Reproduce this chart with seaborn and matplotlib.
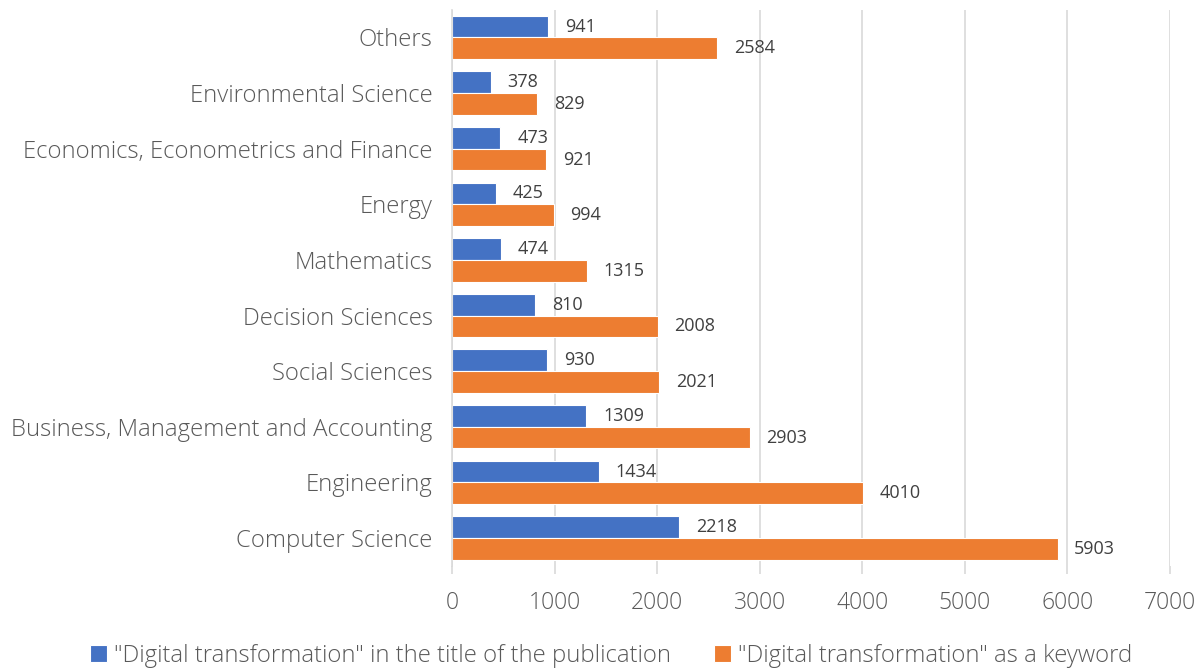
import pandas as pd
import seaborn as sns
import matplotlib.pyplot as plt

categories = ["Others", "Environmental Science", "Economics, Econometrics and Finance",
              "Energy", "Mathematics", "Decision Sciences", "Social Sciences",
              "Business, Management and Accounting", "Engineering", "Computer Science"]
title_counts = [941, 378, 473, 425, 474, 810, 930, 1309, 1434, 2218]
keyword_counts = [2584, 829, 921, 994, 1315, 2008, 2021, 2903, 4010, 5903]
series = ['"Digital transformation" in the title of the publication',
          '"Digital transformation" as a keyword']
x_ticks = [0, 1000, 2000, 3000, 4000, 5000, 6000, 7000]

df = pd.DataFrame({
    "category": categories * 2,
    "count": title_counts + keyword_counts,
    "series": [series[0]] * len(categories) + [series[1]] * len(categories),
})

sns.set_style("white")
plt.rcParams['font.family'] = ['Open Sans', 'DejaVu Sans']
text_color = "#595959"
grid_color = "#D9D9D9"

fig = plt.figure(figsize=(12.03, 6.68), dpi=100)
ax = fig.add_axes([0.3757, 0.153, 0.5969, 0.8325])

sns.barplot(data=df, y="category", x="count", hue="series", order=categories,
            hue_order=series, palette=["#4472C4", "#ED7D31"], saturation=1,
            width=0.78, edgecolor="white", linewidth=0.8, ax=ax)

for cont in ax.containers:
    ax.bar_label(cont, padding=12, fontsize=13, color="#404040")

ax.set_xlim(0, 7000)
ax.set_xticks(x_ticks)
ax.xaxis.grid(True, color=grid_color, linewidth=1.2)
ax.set_axisbelow(True)
ax.tick_params(axis="x", length=6, width=1.2, color=grid_color, pad=12,
               labelsize=16.5, labelcolor=text_color, bottom=True)
ax.tick_params(axis="y", length=0, pad=14, labelsize=17.2, labelcolor=text_color)
for lbl in ax.get_xticklabels() + ax.get_yticklabels():
    lbl.set_fontweight("light")
ax.set_xlabel("")
ax.set_ylabel("")
for s in ["top", "right", "bottom"]:
    ax.spines[s].set_visible(False)
ax.spines["left"].set_color(grid_color)
ax.spines["left"].set_linewidth(1.2)

handles, labels = ax.get_legend_handles_labels()
ax.legend_.remove()
leg = fig.legend(handles, labels, loc="center", bbox_to_anchor=(0.508, 0.018), ncol=2,
                 frameon=False, handlelength=0.7, handleheight=0.7, handletextpad=0.3,
                 columnspacing=1.8, prop={"size": 17.2, "weight": "light"})
for t in leg.get_texts():
    t.set_color(text_color)

plt.savefig("out.png", dpi=100)
